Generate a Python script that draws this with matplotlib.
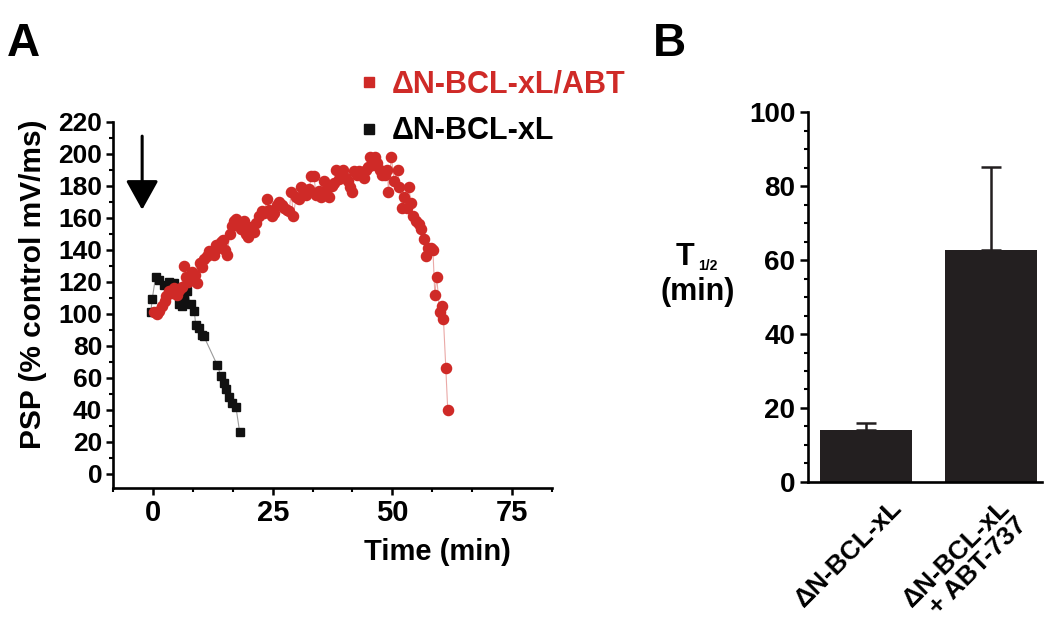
import matplotlib
matplotlib.use("Agg")
import matplotlib.pyplot as plt
from matplotlib.lines import Line2D
from matplotlib.ticker import MultipleLocator

plt.rcParams["font.family"] = ["Liberation Sans", "DejaVu Sans"]
plt.rcParams["font.weight"] = "bold"

RED = "#cf2a27"
BAR_COLOR = "#231f20"

# Panel A: PSP time course (time in min, % control)
abt_time = [
    0.2, 0.8, 1.2, 1.9, 2.4, 2.7, 3.3, 3.9, 4.4, 5.0, 5.4, 6.0, 6.4, 6.8, 7.2,
    7.7, 8.2, 8.7, 9.2, 9.7, 10.2, 10.7, 11.2, 11.7, 12.2, 12.7, 13.1, 13.6,
    14.1, 14.6, 15.0, 15.5, 16.0, 16.5, 17.0, 17.4, 17.9, 18.4, 18.9, 19.4,
    19.8, 20.4, 21.0, 21.6, 22.2, 22.7, 23.2, 23.8, 24.3, 24.8, 25.3, 25.8,
    26.4, 26.9, 27.4, 27.9, 28.4, 28.9, 29.3, 29.9, 30.5, 31.0, 31.5, 32.0,
    32.6, 33.1, 33.6, 34.1, 34.6, 35.2, 35.8, 36.3, 36.8, 37.3, 37.8, 38.3,
    38.8, 39.3, 39.8, 40.3, 40.8, 41.2, 41.6, 42.1, 42.6, 43.1, 43.6, 44.0,
    44.5, 45.0, 45.3, 45.9, 46.4, 46.9, 47.4, 47.8, 48.4, 49.0, 49.2, 49.8,
    50.4, 51.1, 51.5, 52.0, 52.5, 53.0, 53.4, 54.0, 54.3, 55.0, 55.5, 56.1,
    56.6, 57.0, 57.4, 58.1, 58.5, 58.9, 59.3, 59.9, 60.3, 60.7, 61.2, 61.6,
]
abt_psp = [
    101, 100, 102, 105, 108, 111, 114, 113, 116, 112, 115, 117, 130, 123, 120,
    121, 126, 124, 119, 132, 129, 134, 136, 139, 138, 137, 143, 141,
    145, 146, 140, 137, 150, 155, 158, 159, 156, 153, 158, 150,
    148, 154, 151, 157, 161, 164, 163, 172, 165, 161, 163, 168,
    170, 168, 166, 165, 164, 176, 161, 173, 172, 179, 176, 174,
    178, 186, 186, 174, 177, 173, 183, 178, 173, 180, 182, 190,
    184, 187, 190, 185, 183, 179, 176, 189, 187, 189, 187, 185,
    190, 192, 198, 193, 198, 194, 190, 187, 187, 190, 176, 198,
    183, 190, 179, 166, 173, 166, 179, 169, 161, 158, 156, 153,
    147, 136, 141, 141, 140, 112, 123, 101, 105, 97, 66, 40,
]

ctrl_time = [
    -0.5, -0.2, 0.5, 1.2, 2.2, 3.3, 3.8, 4.3, 4.7, 5.4, 6.0, 6.5, 7.1, 7.9,
    8.6, 8.9, 9.6, 10.2, 10.6, 13.4, 14.2, 14.9, 15.3, 15.9, 16.5, 17.3, 18.1,
]
ctrl_psp = [
    101, 109, 123, 121, 118, 120, 116, 119, 114, 106, 105, 110, 114, 106,
    102, 93, 91, 87, 86, 68, 61, 57, 53, 48, 44, 42, 26,
]

# Panel B: half-decay times
groups = ["\u0394N-BCL-xL", "\u0394N-BCL-xL\n+ ABT-737"]
t_half = [14.0, 62.8]
t_half_err = [1.9, 22.4]

fig = plt.figure(figsize=(10.5, 6.38), dpi=100)

# ---- panel A ----
ax = fig.add_axes([0.1079, 0.2346, 0.4175, 0.5746])
ax.plot(abt_time, abt_psp, color="#eaa9a7", lw=0.8, zorder=1)
ax.plot(abt_time, abt_psp, ls="none", marker="o", ms=7.3, color=RED,
        mec=RED, zorder=3)
ax.plot(ctrl_time, ctrl_psp, color="#9a9a9a", lw=0.8, zorder=1)
ax.plot(ctrl_time, ctrl_psp, ls="none", marker="s", ms=6.3, color="#111111",
        zorder=2)

ax.set_xlim(-25 / 3, 250 / 3)
ax.set_ylim(-9, 220)
ax.xaxis.set_major_locator(MultipleLocator(25))
ax.xaxis.set_minor_locator(MultipleLocator(25 / 3))
ax.yaxis.set_major_locator(MultipleLocator(20))
ax.yaxis.set_minor_locator(MultipleLocator(10))
for side in ("top", "right"):
    ax.spines[side].set_visible(False)
for side in ("left", "bottom"):
    ax.spines[side].set_linewidth(1.9)
ax.tick_params(which="major", direction="out", length=5, width=1.8,
               labelsize=19, pad=3)
ax.tick_params(axis="x", which="major", labelsize=21)
ax.tick_params(which="minor", direction="out", length=3, width=1.5)
ax.set_xlabel("Time (min)", fontsize=21, fontweight="bold")
ax.set_ylabel("PSP (% control mV/ms)", fontsize=21.5, fontweight="bold")
ax.xaxis.set_label_coords(0.74, -0.135)
ax.yaxis.set_label_coords(-0.152, 0.557)

ax.annotate("", xy=(-2.3, 165), xytext=(-2.3, 211), annotation_clip=False,
            arrowprops=dict(arrowstyle="-|>,head_length=0.9,head_width=0.5",
                            mutation_scale=20, lw=2.2, color="black",
                            shrinkA=0, shrinkB=0))

handles = [
    Line2D([], [], ls="none", marker="s", ms=6.5, color=RED),
    Line2D([], [], ls="none", marker="s", ms=6.5, color="#111111"),
]
leg = ax.legend(handles, ["\u0394N-BCL-xL/ABT", "\u0394N-BCL-xL"],
                loc="upper left", bbox_to_anchor=(0.325, 0.915),
                bbox_transform=fig.transFigure, frameon=False,
                prop={"size": 22, "weight": "bold"}, handlelength=0.8,
                handletextpad=0.35, labelspacing=0.55, borderpad=0)
leg.get_texts()[0].set_color(RED)

# ---- panel B ----
bx = fig.add_axes([0.7695, 0.2448, 0.2229, 0.5789])
pos = [0, 1]
bx.bar(pos, t_half, width=0.73, color=BAR_COLOR, zorder=2)
bx.errorbar(pos, t_half, yerr=[[0] * len(t_half), t_half_err], fmt="none",
            ecolor=BAR_COLOR, elinewidth=1.8, capsize=7, capthick=1.8,
            zorder=1)
bx.set_xlim(-0.464, 1.408)
bx.set_ylim(0, 100)
bx.yaxis.set_major_locator(MultipleLocator(20))
bx.yaxis.set_minor_locator(MultipleLocator(5))
# x ticks are hidden (length 0); nudge the rotated labels left like the figure
bx.set_xticks([p - nudge for p, nudge in zip(pos, (0.14, 0.21))])
bx.set_xticklabels(groups, rotation=45, ha="center", va="top",
                   multialignment="right", linespacing=1.0, fontsize=19,
                   fontweight="bold")
for side in ("top", "right"):
    bx.spines[side].set_visible(False)
for side in ("left", "bottom"):
    bx.spines[side].set_linewidth(1.9)
bx.tick_params(axis="x", length=0, pad=10)
bx.tick_params(axis="y", which="major", direction="out", length=6, width=1.8,
               labelsize=20, pad=3)
bx.tick_params(axis="y", which="minor", direction="out", length=3, width=1.5)

fig.text(0.643, 0.574, "T", fontsize=22, fontweight="bold", ha="left",
         va="bottom")
fig.text(0.665, 0.572, "1/2", fontsize=10, fontweight="bold", ha="left",
         va="bottom")
fig.text(0.664, 0.566, "(min)", fontsize=22, fontweight="bold", ha="center",
         va="top")

fig.text(0.007, 0.965, "A", fontsize=33, fontweight="bold", va="top")
fig.text(0.622, 0.965, "B", fontsize=33, fontweight="bold", va="top")

fig.savefig("out.png", dpi=100)
